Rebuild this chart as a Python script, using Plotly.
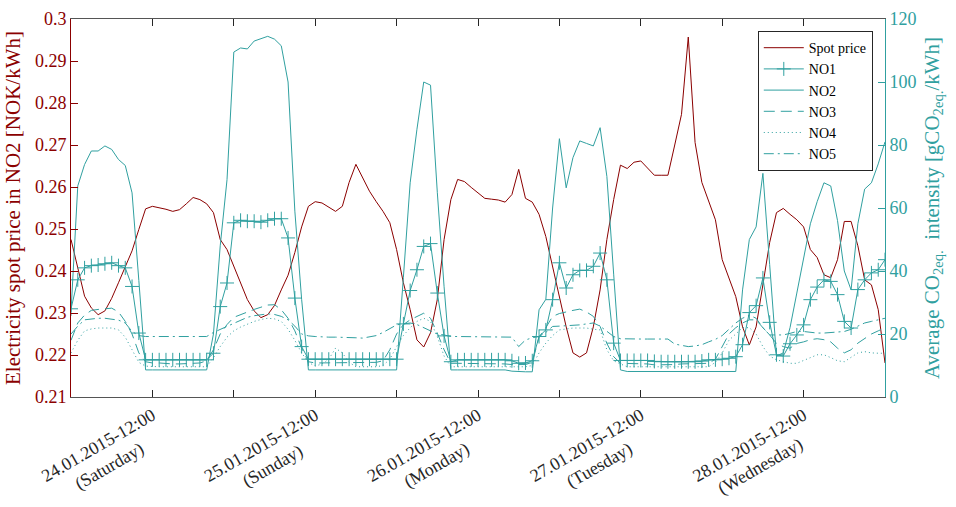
import plotly.graph_objects as go
import pandas as pd

# Hourly time stamps, 24.01.2015 00:00 .. 29.01.2015 00:00
times = pd.date_range("2015-01-24 00:00", "2015-01-29 00:00", freq="h")

spot_price = [
    0.2475, 0.2405, 0.2340, 0.2312, 0.2296, 0.2305, 0.2335, 0.2372, 0.2410, 0.2448,
    0.2499, 0.2548, 0.2554, 0.2551, 0.2547, 0.2542, 0.2546, 0.2560, 0.2575, 0.2570,
    0.2560, 0.2539, 0.2475, 0.2451, 0.2410, 0.2370, 0.2332, 0.2305, 0.2289, 0.2296,
    0.2318, 0.2355, 0.2390, 0.2444, 0.2505, 0.2554, 0.2565, 0.2562, 0.2552, 0.2542,
    0.2554, 0.2611, 0.2654, 0.2620, 0.2590, 0.2565, 0.2542, 0.2515, 0.2451, 0.2372,
    0.2308, 0.2236, 0.2219, 0.2253, 0.2332, 0.2475, 0.2570, 0.2618, 0.2613, 0.2599,
    0.2587, 0.2573, 0.2571, 0.2569, 0.2564, 0.2582, 0.2642, 0.2573, 0.2564, 0.2535,
    0.2482, 0.2410, 0.2332, 0.2267, 0.2205, 0.2195, 0.2205, 0.2267, 0.2355, 0.2475,
    0.2570, 0.2652, 0.2644, 0.2659, 0.2662, 0.2645, 0.2628, 0.2628, 0.2628, 0.2700,
    0.2773, 0.2957, 0.2706, 0.2611, 0.2565, 0.2522, 0.2427, 0.2385, 0.2339, 0.2267,
    0.2224, 0.2267, 0.2363, 0.2468, 0.2539, 0.2549, 0.2535, 0.2522, 0.2505, 0.2451,
    0.2432, 0.2391, 0.2384, 0.2427, 0.2518, 0.2518, 0.2460, 0.2379, 0.2367, 0.2308,
    0.2181,
]

no1 = [
    28, 37.2, 41, 41.7, 41.9, 42.3, 42.6, 41.7, 41, 35.1,
    20.3, 11.8, 11.8, 11.8, 11.8, 11.8, 11.8, 11.8, 11.8, 11.8,
    11.8, 13.9, 28.7, 36.2, 55.3, 56.1, 55.8, 55.8, 55.5, 56.1,
    56.6, 56.6, 50.5, 31.4, 16, 12, 12, 12, 12, 12,
    12, 12, 12, 12, 12, 12, 12, 12, 12, 23.2,
    33.8, 40.4, 47.8, 48.7, 33, 19.4, 11.2, 11.8, 11.8, 11.8,
    11.8, 11.8, 11.8, 11.8, 11.8, 11.5, 10.7, 10.8, 11.5, 19.2,
    21.3, 30.9, 42.6, 34.6, 38.8, 40.2, 40.2, 41.5, 45.7, 37.2,
    17.1, 11.6, 11.6, 11.6, 11.6, 11.6, 11.3, 11.2, 11.2, 11.2,
    11.2, 11.2, 11.2, 11.4, 11.8, 11.8, 12, 12.3, 12.8, 16.6,
    26.8, 29, 37.8, 23.7, 13.4, 13, 16.9, 19.7, 22.9, 30.9,
    34.9, 37.2, 36.7, 32.5, 24, 21.9, 34.1, 37.2, 39.4, 40.4,
    43.6,
]

no2 = [
    27, 67, 73.8, 78.1, 78.1, 79.7, 78.6, 75.4, 73.5, 64.8,
    37, 8.6, 8.6, 8.6, 8.6, 8.6, 8.6, 8.6, 8.6, 8.6,
    8.6, 20, 48, 69, 109.5, 110.8, 110.5, 113, 113.8, 114.5,
    113.6, 111.5, 100, 59, 31, 8.6, 8.6, 8.6, 8.6, 8.6,
    8.6, 8.6, 8.6, 8.6, 8.6, 8.6, 8.6, 8.6, 8.6, 38,
    68, 85, 100, 99, 65, 35, 8.6, 8.6, 8.6, 8.6,
    8.6, 8.6, 8.6, 8.6, 8.6, 8.2, 8.0, 8.0, 8.0, 27.7,
    31, 60, 82, 66.4, 76, 81.3, 80.5, 79.7, 85.5, 70,
    39, 8.6, 8.1, 8.1, 8.1, 8.1, 8.1, 8.1, 8.1, 8.1,
    8.1, 8.1, 8.1, 8.1, 8.1, 8.1, 8.1, 8.1, 8.1, 34,
    50, 54, 71, 42, 13, 14, 22, 33, 44, 55,
    62, 68, 67, 56, 40, 34, 55, 66, 68, 74,
    81,
]

no3 = [
    18, 23.5, 26, 27.5, 27.8, 28, 28.2, 27, 24, 20,
    14, 11.2, 10.8, 10.8, 10.6, 10.5, 10.5, 10.6, 10.8, 10.8,
    11.5, 15, 20, 23, 25.3, 26.2, 27, 27.8, 28.5, 29.2,
    29.3, 27.7, 25, 21, 15.5, 11.2, 10.8, 10.8, 10.8, 10.8,
    10.8, 10.8, 10.8, 10.8, 10.8, 11, 11.5, 15, 20, 23,
    24.5, 25.5, 26.6, 25, 20.3, 15, 10.7, 10.7, 10.7, 10.7,
    10.7, 10.7, 10.7, 10.7, 10.5, 10.3, 10.2, 10.3, 11, 19,
    22, 25.6, 26.5, 27.1, 27.5, 27.9, 27, 25.6, 22.4, 17,
    12.8, 10.7, 10.7, 10.7, 10.7, 10.5, 10.2, 10.2, 10.2, 10.3,
    10.5, 10.5, 10.7, 10.7, 10.7, 12, 16, 20, 22, 23.5,
    24.5, 24.5, 22, 19.7, 17, 16, 15.5, 17, 17.5, 18.2,
    18.5, 18.2, 17.5, 15.5, 14, 15, 17.1, 18.5, 20, 21,
    22,
]

no4 = [
    14, 18, 21, 21.6, 21.9, 21.9, 21.9, 21.3, 19, 15,
    11, 9.8, 9.6, 9.6, 9.6, 9.6, 9.6, 9.6, 9.6, 9.6,
    9.6, 12.5, 16, 19, 21, 22.2, 23.2, 24, 24.6, 25,
    24.8, 24, 21.5, 18, 14, 11, 9.8, 10.5, 12, 15.5,
    14, 11, 9.6, 9.6, 9.6, 9.6, 10, 12, 16, 19.5,
    22, 24, 25, 24, 19.2, 13, 9.6, 9.6, 9.6, 9.6,
    9.6, 9.6, 9.6, 9.6, 9.6, 9.6, 9.6, 9.6, 10, 14,
    17.1, 19.5, 21.3, 21.7, 21.9, 21.9, 21.9, 21.5, 21.3, 15,
    11.5, 10.5, 9.6, 9.6, 9.6, 9.6, 9.6, 9.6, 9.6, 9.6,
    9.6, 9.6, 9.6, 9.6, 9.6, 11, 14, 18, 20, 22,
    22, 20, 16, 13, 11.8, 11.2, 10.7, 10.7, 11.5, 12.5,
    13.4, 13.4, 12.5, 11.5, 11.2, 12.5, 14, 14.4, 14, 13.9,
    13.9,
]

no5 = [
    20, 22.5, 24.5, 24.8, 25, 25, 24.8, 24.4, 23.5, 20.8,
    19.5, 19.2, 19.2, 19.2, 19.2, 19.2, 19.2, 19.2, 19.2, 19.2,
    19.2, 20.5, 21.5, 22.5, 23.5, 24.5, 25.3, 25.8, 26.2, 26.4,
    26.2, 25.6, 24.5, 22.5, 20, 19.4, 19.2, 19, 19, 19,
    19, 19, 18.8, 18.7, 19, 19.5, 20.5, 21.8, 22.9, 23.2,
    23.5, 23, 22, 21, 20, 19.7, 19.2, 19.2, 19.2, 19.2,
    19.2, 19.2, 19.2, 19.2, 19.2, 19, 16, 18.1, 18.8, 19.2,
    20.5, 22.4, 22.5, 22.6, 22.8, 22.9, 23.2, 23.5, 22.5, 20.8,
    19.2, 18.5, 18.4, 18.4, 18.4, 18.4, 18.4, 18.4, 18.4, 16.8,
    16.3, 16, 16.2, 16.6, 17.5, 18.3, 19.5, 21.5, 23.5, 25,
    26, 25, 22, 19.7, 19.7, 19.7, 20.2, 20.8, 20.8, 20.5,
    20.3, 20.3, 20.5, 20.8, 20.8, 21.5, 22.5, 23.5, 24, 24.5,
    25,
]

x_tick_dates = [
    "2015-01-24 12:00", "2015-01-25 12:00", "2015-01-26 12:00",
    "2015-01-27 12:00", "2015-01-28 12:00",
]
NB = "\u00a0"
x_tick_labels = [
    "24.01.2015-12:00<br>(Saturday)" + NB * 6,
    "25.01.2015-12:00<br>(Sunday)" + NB * 7,
    "26.01.2015-12:00<br>(Monday)" + NB * 6,
    "27.01.2015-12:00<br>(Tuesday)" + NB * 6,
    "28.01.2015-12:00<br>(Wednesday)" + NB * 4,
]

price_ticks = [0.21, 0.22, 0.23, 0.24, 0.25, 0.26, 0.27, 0.28, 0.29, 0.30]
price_tick_labels = ["0.21", "0.22", "0.23", "0.24", "0.25", "0.26", "0.27", "0.28", "0.29", "0.3"]
co2_ticks = [0, 20, 40, 60, 80, 100, 120]

RED = "#8B0000"
TEAL = "#30a0a0"
FONT = "Liberation Serif"

fig = go.Figure()
fig.add_trace(go.Scatter(x=times, y=spot_price, name="Spot price", mode="lines",
                         line=dict(color=RED, width=1), yaxis="y"))
fig.add_trace(go.Scatter(x=times, y=no1, name="NO1", mode="lines+markers",
                         line=dict(color=TEAL, width=1),
                         marker=dict(symbol="cross-thin", size=10,
                                     line=dict(color=TEAL, width=1)),
                         yaxis="y2"))
fig.add_trace(go.Scatter(x=times, y=no2, name="NO2", mode="lines",
                         line=dict(color=TEAL, width=1), yaxis="y2"))
fig.add_trace(go.Scatter(x=times, y=no3, name="NO3", mode="lines",
                         line=dict(color=TEAL, width=1, dash="11px,6px"), yaxis="y2"))
fig.add_trace(go.Scatter(x=times, y=no4, name="NO4", mode="lines",
                         line=dict(color=TEAL, width=1, dash="1px,3px"), yaxis="y2"))
fig.add_trace(go.Scatter(x=times, y=no5, name="NO5", mode="lines",
                         line=dict(color=TEAL, width=1, dash="10px,4px,2px,4px"), yaxis="y2"))

fig.update_layout(
    width=956, height=507,
    margin=dict(l=71, r=71, t=19, b=110),
    paper_bgcolor="white", plot_bgcolor="white",
    font=dict(family=FONT, size=18, color="#262626"),
    showlegend=True,
    legend=dict(x=0.985, y=0.968, xanchor="right", yanchor="top",
                bgcolor="white", bordercolor="#262626", borderwidth=1,
                font=dict(family=FONT, size=14, color="black"),
                tracegroupgap=0, itemwidth=40),
    xaxis=dict(type="date", range=["2015-01-24 00:00", "2015-01-29 00:00"],
               tickmode="array", tickvals=x_tick_dates, ticktext=x_tick_labels,
               tickangle=-30, ticks="inside", ticklen=7, tickcolor="#262626",
               minor=dict(ticks="inside", ticklen=7, tickcolor="#262626",
                          dtick=12 * 3600 * 1000, tick0="2015-01-24 00:00"),
               showline=True, linecolor="#555555", linewidth=1, mirror="ticks",
               showgrid=False, zeroline=False, automargin=False,
               tickfont=dict(family=FONT, size=18, color="#262626")),
    yaxis=dict(range=[0.21, 0.30], tickmode="array", tickvals=price_ticks,
               ticktext=price_tick_labels, ticks="inside", ticklen=7,
               tickcolor=RED, showline=True, linecolor=RED, linewidth=1,
               showgrid=False, zeroline=False, automargin=False,
               tickfont=dict(family=FONT, size=18, color=RED),
               title=dict(text="Electricity spot price in NO2 [NOK/kWh]",
                          font=dict(family=FONT, size=21, color=RED), standoff=8)),
    yaxis2=dict(range=[0, 120], tickmode="array", tickvals=co2_ticks,
                overlaying="y", side="right", ticks="inside", ticklen=7,
                tickcolor=TEAL, showline=True, linecolor=TEAL, linewidth=1,
                showgrid=False, zeroline=False, automargin=False,
                tickfont=dict(family=FONT, size=18, color=TEAL),
                title=dict(text="Average CO<sub>2eq.</sub>  intensity [gCO<sub>2eq.</sub>/kWh]",
                           font=dict(family=FONT, size=21, color=TEAL), standoff=8)),
)

fig.write_html("out.html")
